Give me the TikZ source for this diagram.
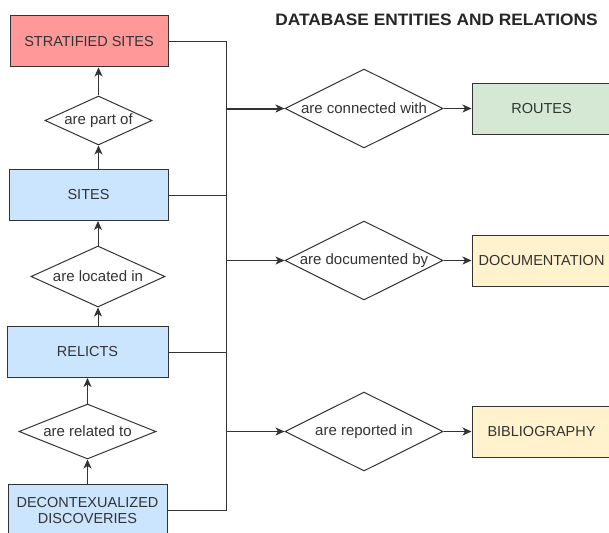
\documentclass[tikz,border=0pt]{standalone}
\usepackage{fontspec}
\setmainfont{Liberation Sans}
\usetikzlibrary{shapes.geometric,arrows.meta}
\definecolor{redf}{HTML}{FF9999}
\definecolor{bluef}{HTML}{CCE5FF}
\definecolor{greenf}{HTML}{D5E8D4}
\definecolor{yellowf}{HTML}{FFF2CC}
\definecolor{edge}{HTML}{333333}
\definecolor{txt}{HTML}{333333}
\tikzset{
  ent/.style={draw=edge, line width=1pt, rectangle, minimum width=159pt, minimum height=51pt, inner sep=0pt, font=\fontsize{14.5}{17}\selectfont, text=txt, align=center},
  rentity/.style={draw=edge, line width=1pt, rectangle, minimum width=139pt, minimum height=51pt, inner sep=0pt, font=\fontsize{14.5}{17}\selectfont, text=txt, fill=yellowf},
  rel/.style={draw=edge, line width=1pt, diamond, inner sep=0pt, fill=white, label={[font=\fontsize{15}{18}\selectfont, text=txt]center:#1}},
  conn/.style={draw=edge, line width=1pt},
  arr/.style={conn, -{Stealth[length=9pt,width=8pt,inset=2.5pt]}},
}
\begin{document}
\begin{tikzpicture}[x=1pt,y=-1pt]
\useasboundingbox (0,0) rectangle (609,532);
\clip (0,0) rectangle (609,532);
\fill[white] (0,0) rectangle (609,532);
\node[font=\bfseries\fontsize{16.5}{19}\selectfont, text=black!85] (title) at (436.5,20) {\scalebox{1.05}[1]{DATABASE ENTITIES AND RELATIONS}};
% left entities
\node[ent, fill=redf, minimum width=158pt] (strat) at (89,41.5) {STRATIFIED SITES};
\node[ent, fill=bluef] (sites) at (88.5,195) {SITES};
\node[ent, fill=bluef, minimum width=161pt] (relicts) at (87.5,352) {RELICTS};
\node[ent, fill=bluef, minimum height=52pt] (disc) at (87.5,510.5) {DECONTEXUALIZED\\[-1pt]DISCOVERIES};
% left relations
\node[rel={are part of}, minimum width=107pt, minimum height=49pt] (pof) at (98.5,120.5) {};
\node[rel={are located in}, minimum width=134pt, minimum height=61pt] (loc) at (98,276.5) {};
\node[rel={are related to}, minimum width=137pt, minimum height=55pt] (rto) at (87.5,431.5) {};
% right relations
\node[rel={are connected with}, minimum width=158pt, minimum height=79pt] (cw) at (364,108.5) {};
\node[rel={are documented by}, minimum width=158pt, minimum height=79pt] (db) at (364,260.5) {};
\node[rel={are reported in}, minimum width=158pt, minimum height=79pt] (ri) at (364,431.5) {};
% right entities
\node[rentity, fill=greenf] (routes) at (541.5,109) {ROUTES};
\node[rentity] (docu) at (541.5,260.5) {DOCUMENTATION};
\node[rentity] (bib) at (541.5,431.5) {BIBLIOGRAPHY};
% bus
\coordinate (bt) at (226,41.5);
\coordinate (bb) at (226,510.5);
\draw[conn] (strat.east) -- (bt) -- (bb) -- (disc.east);
\draw[conn] (sites.east) -- (sites.east -| bt);
\draw[conn] (relicts.east) -- (relicts.east -| bt);
% left vertical arrows
\draw[arr] (pof.north) -- (pof.north |- strat.south);
\draw[arr] (pof.south |- sites.north) -- (pof.south);
\draw[arr] (loc.north) -- (loc.north |- sites.south);
\draw[arr] (loc.south |- relicts.north) -- (loc.south);
\draw[arr] (rto.north) -- (rto.north |- relicts.south);
\draw[arr] (rto.south |- disc.north) -- (rto.south);
% right arrows
\draw[arr, line width=2pt] (bt |- cw.west) -- (cw.west);
\draw[arr] (bt |- db.west) -- (db.west);
\draw[arr] (bt |- ri.west) -- (ri.west);
\draw[arr] (cw.east) -- (cw.east -| routes.west);
\draw[arr] (db.east) -- (db.east -| docu.west);
\draw[arr] (ri.east) -- (ri.east -| bib.west);
\end{tikzpicture}
\end{document}
